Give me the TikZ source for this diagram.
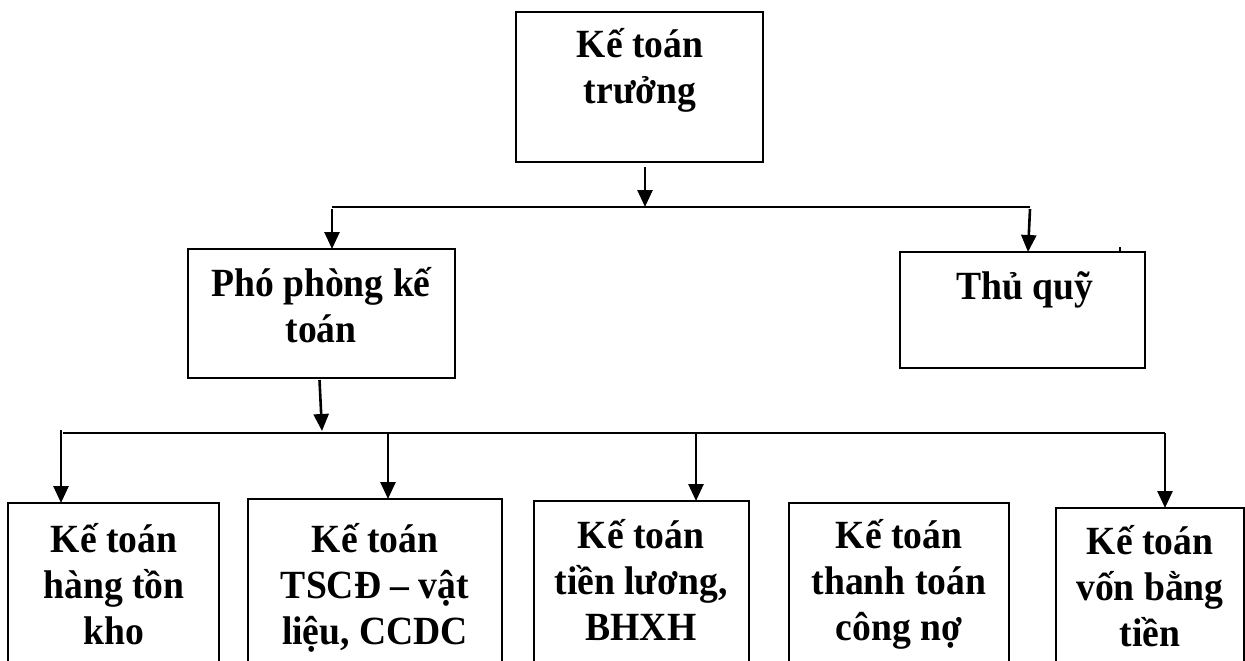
\documentclass[tikz,border=0pt]{standalone}
\usepackage{fontspec}
\setmainfont{Liberation Serif}[FakeStretch=0.94]
\usetikzlibrary{arrows.meta,calc}
\begin{document}
\begin{tikzpicture}[x=1pt,y=-1pt,
  box/.style={draw,line width=2.2pt,inner sep=0pt,outer sep=0pt,anchor=north west},
  lbl/.style={font=\bfseries\fontsize{40}{46}\selectfont,align=center,inner sep=0pt,anchor=base},
  wire/.style={line width=2.2pt},
  arr/.style={line width=2.6pt,-{Triangle[length=17pt,width=15pt]}}]
\useasboundingbox (0,0) rectangle (1245,661);
\clip (0,0) rectangle (1245,661);

% boxes
\node[box,minimum width=247pt,minimum height=150pt] (kt) at (516,12) {};
\node[box,minimum width=267pt,minimum height=129pt] (pp) at (188,249) {};
\node[box,minimum width=245pt,minimum height=116pt] (tq) at (900,252) {};
\node[box,minimum width=211pt,minimum height=200pt] (k1) at (8,503) {};
\node[box,minimum width=254pt,minimum height=200pt] (k2) at (248,499) {};
\node[box,minimum width=215pt,minimum height=200pt] (k3) at (534,501) {};
\node[box,minimum width=220pt,minimum height=200pt] (k4) at (789,503) {};
\node[box,minimum width=188pt,minimum height=200pt] (k5) at (1056,508) {};

% labels (anchored at the baseline of their last line)
\node[lbl] (tkt) at (640,103) {Kế toán\\trưởng};
\node[lbl] (tpp) at (321,342) {Phó phòng kế\\toán};
\node[lbl] (ttq) at (1025,299) {Thủ quỹ};
\node[lbl] (tk1) at (114,644) {Kế toán\\hàng tồn\\kho};
\node[lbl] (tk2) at (375,644) {Kế toán\\TSCĐ – vật\\liệu, CCDC};
\node[lbl] (tk3) at (641,640) {Kế toán\\tiền lương,\\BHXH};
\node[lbl] (tk4) at (899,640) {Kế toán\\thanh toán\\công nợ};
\node[lbl] (tk5) at (1150,646) {Kế toán\\vốn bằng\\tiền};

% upper branch
\coordinate (ua) at (645,207);
\coordinate (ul) at (332,207);
\coordinate (ur) at (1030,207);
\draw[wire] (ul) -- (ur);
\draw[arr] ([xshift=5.5pt,yshift=-5pt]kt.south) -- (ua);
\draw[arr] ([yshift=-2pt]ul) -- (pp.north -| ul);
\draw[arr] ([yshift=-2pt]ur) -- ([xshift=-2pt]tq.north -| ur);
\draw[line width=1.5pt] ([xshift=-25pt,yshift=5pt]tq.north east) -- ([xshift=-25pt]tq.north east);

% lower branch
\coordinate (la) at (322,431);
\coordinate (ll) at (63,433);
\coordinate (lr) at (1165,433);
\draw[wire] (ll) -- (lr);
\draw[arr] ([xshift=-2pt,yshift=-2pt]pp.south) -- (la);
\coordinate (a1) at (61,430);
\coordinate (a2) at (388,433);
\coordinate (a3) at (696,433);
\draw[arr] (a1) -- (k1.north -| a1);
\draw[arr] (a2) -- (k2.north -| a2);
\draw[arr] (a3) -- (k3.north -| a3);
\draw[arr] (lr) -- (k5.north -| lr);
\end{tikzpicture}
\end{document}
